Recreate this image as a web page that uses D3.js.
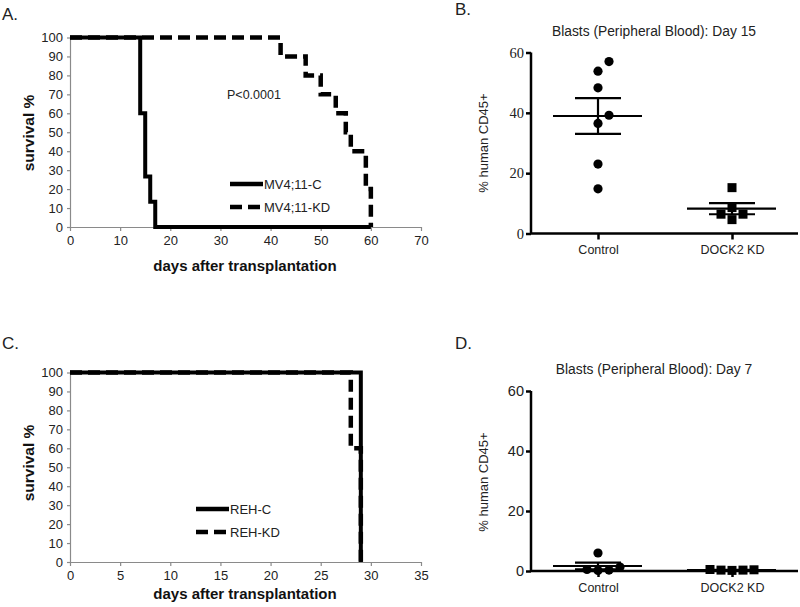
<!DOCTYPE html>
<html><head><meta charset="utf-8">
<script src="https://cdn.jsdelivr.net/npm/d3@7"></script>
<style>body{margin:0;background:#fff}svg{display:block;font-family:"Liberation Sans",Arial,sans-serif}</style>
</head><body><svg id="c" width="800" height="607"></svg>
<script>
// ---- Panel A data (Kaplan-Meier, MV4;11)
const mvC_days = [0, 14, 15, 16, 17, 60];
const mvC_surv = [100, 60, 26.7, 13.3, 0, 0];
const mvKD_days = [0, 42, 47, 50, 53, 55, 56, 59, 60];
const mvKD_surv = [100, 90, 80, 70, 60, 50, 40, 20, 0];
const A_xticks = [0, 10, 20, 30, 40, 50, 60, 70];
const surv_ticks = [0, 10, 20, 30, 40, 50, 60, 70, 80, 90, 100];
const A_legend = ["MV4;11-C", "MV4;11-KD"];
const A_pvalue = "P<0.0001";
// ---- Panel C data (REH)
const rehC_days = [0, 29];
const rehC_surv = [100, 0];
const rehKD_days = [0, 28, 29];
const rehKD_surv = [100, 60, 0];
const C_xticks = [0, 5, 10, 15, 20, 25, 30, 35];
const C_legend = ["REH-C", "REH-KD"];
// ---- Panel B data (Day 15)
const groups = ["Control", "DOCK2 KD"];
const B_control = [57, 53.8, 48.3, 39.2, 36.5, 23, 14.8];
const B_kd = [15.2, 8.6, 6.4, 6.4, 4.6];
// ---- Panel D data (Day 7)
const D_control = [6.0, 0.5, 0.2, 0.3, 1.3];
const D_kd = [0.5, 0.2, 0.3, 0.4, 0.3];
const blast_ticks = [0, 20, 40, 60];
const B_title = "Blasts (Peripheral Blood): Day 15";
const D_title = "Blasts (Peripheral Blood): Day 7";

const svg = d3.select("#c");

function label(x, y, t, size, opts = {}) {
  return svg.append("text").attr("x", x).attr("y", y).text(t)
    .attr("font-size", size).attr("fill", opts.fill || "#222")
    .attr("font-weight", opts.weight || "normal")
    .attr("text-anchor", opts.anchor || "start")
    .attr("font-family", opts.family || null);
}

function kmPanel(cfg) {
  const x = d3.scaleLinear().domain([0, cfg.xmax]).range([70, 421]);
  const y = d3.scaleLinear().domain([0, 100]).range([cfg.y0, cfg.y100]);
  const g = svg.append("g");
  const xa = g.append("g").attr("transform", `translate(0,${cfg.y0})`)
    .call(d3.axisBottom(x).tickValues(cfg.xticks).tickSize(4).tickSizeOuter(0).tickPadding(5));
  const ya = g.append("g").attr("transform", `translate(70,0)`)
    .call(d3.axisLeft(y).tickValues(surv_ticks).tickSize(3).tickSizeOuter(0).tickPadding(4));
  [xa, ya].forEach(a => {
    a.selectAll("path,line").attr("stroke", "#8a8a8a").attr("stroke-width", 1.2);
    a.selectAll("text").attr("font-size", 13).attr("fill", "#222").attr("font-family", '"Liberation Sans",Arial,sans-serif');
  });
  const line = d3.line().x(d => x(d[0])).y(d => y(d[1])).curve(d3.curveStepAfter);
  // dashed series first so the solid one lies on top
  cfg.series.slice().reverse().forEach(s => {
    g.append("path").datum(d3.zip(s.days, s.surv)).attr("d", line)
      .attr("fill", "none").attr("stroke", "#000").attr("stroke-width", s.dash ? 4.5 : 4)
      .attr("stroke-dasharray", s.dash ? "12,6" : null);
  });
  // legend
  cfg.legend.forEach((t, i) => {
    const ly = cfg.legY + i * 23;
    g.append("line").attr("x1", cfg.legX).attr("x2", cfg.legX + 33).attr("y1", ly).attr("y2", ly)
      .attr("stroke", "#000").attr("stroke-width", 4.5)
      .attr("stroke-dasharray", i === 1 ? "12,6" : null);
    label(cfg.legX + 34, ly + 5, t, 13);
  });
  // axis titles
  label(245, cfg.xlabY, "days after transplantation", 15, {weight: "bold", anchor: "middle", fill: "#111"});
  svg.append("text").attr("transform", `translate(34,${cfg.ylabY}) rotate(-90)`)
    .attr("text-anchor", "middle").attr("font-size", 15.5).attr("font-weight", "bold").attr("fill", "#111")
    .text("survival %");
  label(2, cfg.letterY, cfg.letter, 17, {fill: "#222"});
}

kmPanel({xmax: 70, xticks: A_xticks, y0: 227, y100: 37.5,
  series: [{days: mvC_days, surv: mvC_surv}, {days: mvKD_days, surv: mvKD_surv, dash: true}],
  legend: A_legend, legX: 230, legY: 184, xlabY: 271, ylabY: 133, letter: "A.", letterY: 20});
label(227, 99, A_pvalue, 12.5);

kmPanel({xmax: 35, xticks: C_xticks, y0: 562, y100: 372.5,
  series: [{days: rehC_days, surv: rehC_surv}, {days: rehKD_days, surv: rehKD_surv, dash: true}],
  legend: C_legend, legX: 196, legY: 509, xlabY: 599, ylabY: 463, letter: "C.", letterY: 349});

// swarm placement: offsets 0, +s, -s, +2s, -2s ...
function swarm(vals, y, step, minDist) {
  const order = vals.map((v, i) => i).sort((a, b) => vals[a] - vals[b]);
  const placed = [];
  const res = new Array(vals.length);
  const cands = [0, 1, -1, 2, -2, 3, -3];
  order.forEach(i => {
    const py = y(vals[i]);
    for (const c of cands) {
      const px = c * step;
      if (placed.every(p => Math.hypot(p[0] - px, p[1] - py) >= minDist)) {
        placed.push([px, py]); res[i] = px; break;
      }
    }
  });
  return res;
}

function dotPanel(cfg) {
  const x = d3.scalePoint().domain(groups).range([598, 732]);
  const y = d3.scaleLinear().domain([0, 60]).range([cfg.y0, cfg.y60]);
  const g = svg.append("g");
  const ya = g.append("g").attr("transform", `translate(531,0)`)
    .call(d3.axisLeft(y).tickValues(blast_ticks).tickSize(5).tickSizeOuter(0).tickPadding(2));
  ya.select(".domain").attr("d", `M0,${cfg.y60}V${cfg.y0}`);
  const xa = g.append("g").attr("transform", `translate(0,${cfg.y0})`)
    .call(d3.axisBottom(x).tickSize(6).tickSizeOuter(0).tickPadding(6));
  xa.select(".domain").attr("d", `M531,0H798`);
  [xa, ya].forEach(a => {
    a.selectAll("path,line").attr("stroke", "#000").attr("stroke-width", 2.5);
  });
  ya.selectAll("text").attr("font-size", 14.5).attr("fill", "#222").attr("font-family", cfg.tickFont);
  xa.selectAll("text").attr("font-size", 12.5).attr("fill", "#222");
  svg.append("text").attr("transform", `translate(488,${cfg.ylabY}) rotate(-90)`)
    .attr("text-anchor", "middle").attr("font-size", 13).attr("fill", "#222").text("% human CD45+");
  label(654, cfg.titleY, cfg.title, 13.8, {anchor: "middle"});
  label(455, cfg.letterY, cfg.letter, 17);

  [cfg.control, cfg.kd].forEach((vals, gi) => {
    const cx = x(groups[gi]);
    const off = swarm(vals, y, 11, 10);
    const mean = d3.mean(vals), sem = d3.deviation(vals) / Math.sqrt(vals.length);
    g.append("line").attr("x1", cx - 45).attr("x2", cx + 44).attr("y1", y(mean)).attr("y2", y(mean))
      .attr("stroke", "#000").attr("stroke-width", 2.2);
    [mean + sem, mean - sem].forEach(v => {
      g.append("line").attr("x1", cx - 23).attr("x2", cx + 23).attr("y1", y(v)).attr("y2", y(v))
        .attr("stroke", "#000").attr("stroke-width", 2.2);
    });
    g.append("line").attr("x1", cx).attr("x2", cx).attr("y1", y(mean + sem)).attr("y2", y(Math.max(0, mean - sem)))
      .attr("stroke", "#000").attr("stroke-width", 2.2);
    vals.forEach((v, i) => {
      if (gi === 0) {
        g.append("circle").attr("cx", cx + off[i]).attr("cy", y(v)).attr("r", 4.6).attr("fill", "#000");
      } else {
        g.append("rect").attr("x", cx + off[i] - 4.5).attr("y", y(v) - 4.5).attr("width", 9).attr("height", 9).attr("fill", "#000");
      }
    });
  });
}

dotPanel({y0: 233.5, y60: 52.5, control: B_control, kd: B_kd, title: B_title, titleY: 36,
  ylabY: 143, letter: "B.", letterY: 15, tickFont: '"Liberation Serif","Times New Roman",serif'});
dotPanel({y0: 571, y60: 391, control: D_control, kd: D_kd, title: D_title, titleY: 374,
  ylabY: 482, letter: "D.", letterY: 349, tickFont: '"Liberation Sans",Arial,sans-serif'});
</script></body></html>
